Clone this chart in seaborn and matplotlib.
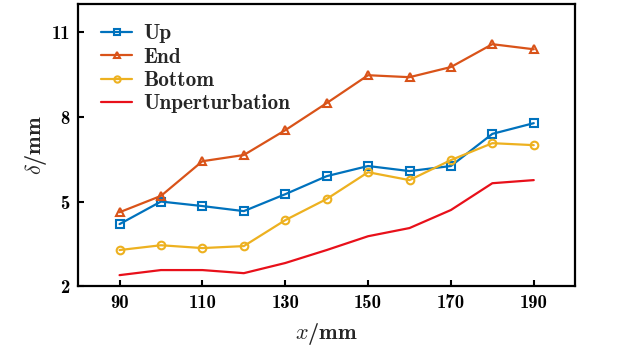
import matplotlib
matplotlib.use("Agg")
import matplotlib.pyplot as plt
import seaborn as sns
import pandas as pd

x_mm = [90, 100, 110, 120, 130, 140, 150, 160, 170, 180, 190]
up = [4.20, 5.00, 4.84, 4.66, 5.26, 5.90, 6.26, 6.08, 6.26, 7.40, 7.78]
end = [4.62, 5.20, 6.43, 6.65, 7.53, 8.49, 9.48, 9.41, 9.77, 10.58, 10.40]
bottom = [3.28, 3.45, 3.35, 3.42, 4.34, 5.09, 6.04, 5.76, 6.47, 7.07, 7.00]
unpert = [2.39, 2.57, 2.57, 2.46, 2.82, 3.28, 3.77, 4.06, 4.70, 5.65, 5.76]
series_names = ["Up", "End", "Bottom", "Unperturbation"]
y_ticks = [2, 5, 8, 11]
x_ticks = [90, 110, 130, 150, 170, 190]

sns.set_theme(style="ticks")
plt.rcParams['font.family'] = ['cmb10', 'cmr10', 'DejaVu Serif']
plt.rcParams['mathtext.fontset'] = 'cm'
plt.rcParams['axes.formatter.use_mathtext'] = False

fig = plt.figure(figsize=(6.3, 3.46), dpi=100)
ax = fig.add_axes([0.124, 0.173, 0.789, 0.815])

styles = [
    ("#0072BD", "s"),
    ("#D95319", "^"),
    ("#EDB120", "o"),
    ("#E8101A", None),
]
for name, vals, (c, m) in zip(series_names, [up, end, bottom, unpert], styles):
    df = pd.DataFrame({"x": x_mm, "y": vals})
    kw = dict(color=c, linewidth=1.6, label=name)
    if m is not None:
        kw.update(marker=m, markersize=5.5, markerfacecolor="none",
                  markeredgecolor=c, markeredgewidth=1.5)
    sns.lineplot(data=df, x="x", y="y", ax=ax, **kw)

ax.set_xlim(80, 200)
ax.set_ylim(2, 12)
ax.set_xticks(x_ticks)
ax.set_yticks(y_ticks)
ax.set_xlabel(r"$x$/mm", fontsize=16, labelpad=6)
ax.set_ylabel(r"$\delta$/mm", fontsize=16, labelpad=2)
ax.tick_params(direction="in", length=4, width=1.5, labelsize=13.5,
               top=False, right=False, color="black", labelcolor="black", pad=6)
for sp in ax.spines.values():
    sp.set_linewidth(1.6)
    sp.set_color("black")
    sp.set_visible(True)
leg = ax.legend(loc="upper left", frameon=False, fontsize=15.3,
                handlelength=1.46, handletextpad=0.52, labelspacing=0.2,
                borderaxespad=0.0, bbox_to_anchor=(0.029, 0.958))
for h in leg.legend_handles:
    h.set_markersize(4.5)
fig.savefig("out.png", dpi=100)
